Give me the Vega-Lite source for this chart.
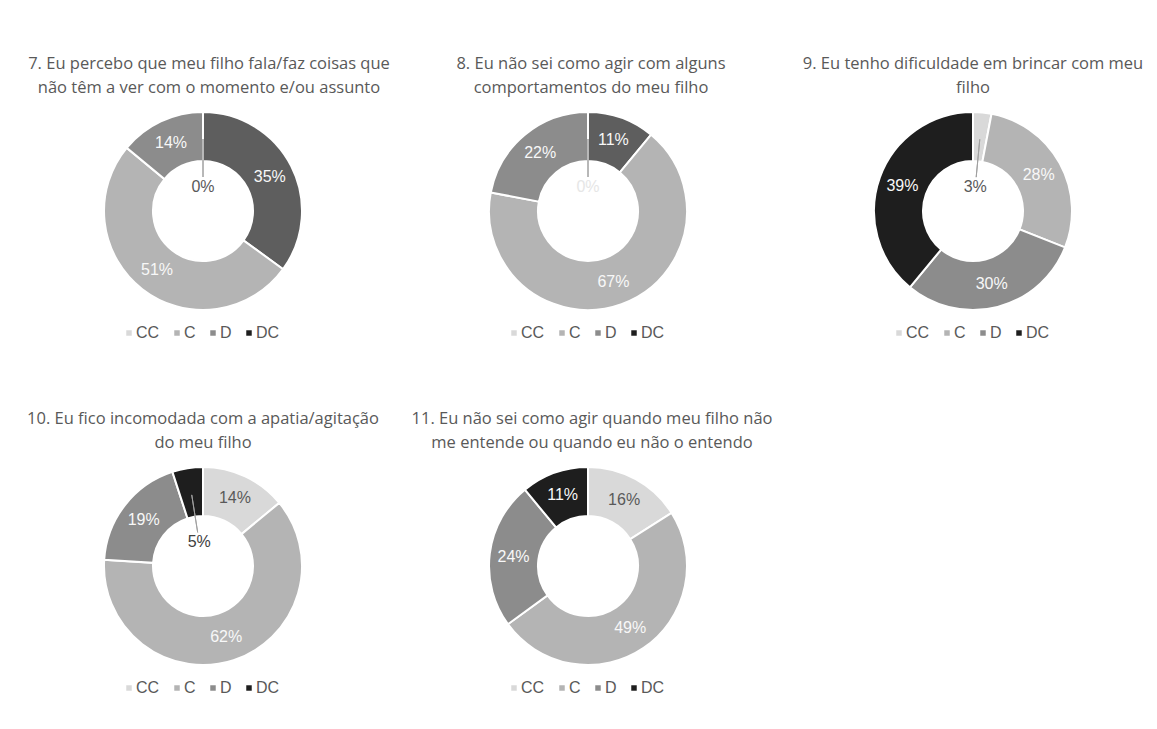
{
  "$schema": "https://vega.github.io/schema/vega-lite/v6.json",
  "background": "white",
  "padding": {"left": 13, "top": 55, "right": 0, "bottom": 0},
  "config": {
    "view": {"stroke": null},
    "title": {"font": "Open Sans", "fontSize": 16.5, "fontWeight": "normal", "color": "#595959", "lineHeight": 24, "anchor": "middle", "offset": 12},
    "legend": {"orient": "none", "legendX": 108, "legendY": 214, "direction": "horizontal", "title": null, "symbolType": "square", "symbolSize": 30, "symbolStrokeWidth": 0, "labelFont": "Liberation Sans", "labelFontSize": 16, "labelColor": "#595959", "columnPadding": 9, "labelOffset": -1, "padding": 0}
  },
  "data": {"values": [
    {"q": "7", "cat": "CC", "order": 1, "value": 0.00},
    {"q": "7", "cat": "DC", "order": 2, "value": 0.35},
    {"q": "7", "cat": "C", "order": 3, "value": 0.51},
    {"q": "7", "cat": "D", "order": 4, "value": 0.14},
    {"q": "8", "cat": "CC", "order": 1, "value": 0.00},
    {"q": "8", "cat": "DC", "order": 2, "value": 0.11},
    {"q": "8", "cat": "C", "order": 3, "value": 0.67},
    {"q": "8", "cat": "D", "order": 4, "value": 0.22},
    {"q": "9", "cat": "CC", "order": 1, "value": 0.03},
    {"q": "9", "cat": "C", "order": 2, "value": 0.28},
    {"q": "9", "cat": "D", "order": 3, "value": 0.30},
    {"q": "9", "cat": "DC", "order": 4, "value": 0.39},
    {"q": "10", "cat": "CC", "order": 1, "value": 0.14},
    {"q": "10", "cat": "C", "order": 2, "value": 0.62},
    {"q": "10", "cat": "D", "order": 3, "value": 0.19},
    {"q": "10", "cat": "DC", "order": 4, "value": 0.05},
    {"q": "11", "cat": "CC", "order": 1, "value": 0.16},
    {"q": "11", "cat": "C", "order": 2, "value": 0.49},
    {"q": "11", "cat": "D", "order": 3, "value": 0.24},
    {"q": "11", "cat": "DC", "order": 4, "value": 0.11}
  ]},
  "columns": 3,
  "spacing": {"row": 69, "column": 5},
  "resolve": {"scale": {"fill": "independent", "theta": "independent"}, "legend": {"fill": "independent"}},
  "concat": [
    {
      "title": {"text": ["7. Eu percebo que meu filho fala/faz coisas que", "não têm a ver com o momento e/ou assunto"], "dx": 6},
      "width": 380, "height": 200,
      "transform": [{"filter": "datum.q === '7'"}, {"stack": "value", "groupby": ["q"], "sort": [{"field": "order", "order": "ascending"}], "as": ["s0", "s1"]}, {"calculate": "(datum.s0 + datum.s1) / 2", "as": "mid"}],
      "layer": [
        {"mark": {"type": "arc", "outerRadius": 99, "innerRadius": 50, "stroke": "white", "strokeWidth": 2},
         "encoding": {"theta": {"field": "s0", "type": "quantitative", "stack": null, "scale": {"domain": [0, 1]}}, "theta2": {"field": "s1"},
           "fill": {"condition": {"test": "datum.cat === 'DC' && (datum.q === '7' || datum.q === '8')", "value": "#5e5e5e"}, "field": "cat", "type": "nominal", "scale": {"domain": ["CC", "C", "D", "DC"], "range": ["#d9d9d9", "#b4b4b4", "#8c8c8c", "#1e1e1e"]}}}},
        {"transform": [{"filter": "datum.value >= 0.06"}], "mark": {"type": "text", "radius": 75, "font": "Liberation Sans", "fontSize": 16},
         "encoding": {"theta": {"field": "mid", "type": "quantitative", "stack": null, "scale": {"domain": [0, 1]}}, "text": {"field": "value", "type": "quantitative", "format": ".0%"}, "color": {"condition": {"test": "datum.cat === 'CC'", "value": "#595959"}, "value": "#f8f8f8"}}},
        {"transform": [{"filter": "datum.value < 0.06"}], "mark": {"type": "arc", "outerRadius": 72, "innerRadius": 34, "stroke": "#a0a0a0", "strokeWidth": 1, "fill": null},
         "encoding": {"theta": {"field": "mid", "type": "quantitative", "stack": null, "scale": {"domain": [0, 1]}}, "theta2": {"field": "mid"}}},
        {"transform": [{"filter": "datum.value < 0.06"}], "mark": {"type": "text", "radius": 24, "font": "Liberation Sans", "fontSize": 16},
         "encoding": {"theta": {"field": "mid", "type": "quantitative", "stack": null, "scale": {"domain": [0, 1]}}, "text": {"field": "value", "type": "quantitative", "format": ".0%"}, "color": {"condition": {"test": "datum.q === '8'", "value": "#e6e6e6"}, "value": "#595959"}}}
      ]
    },
    {
      "title": {"text": ["8. Eu não sei como agir com alguns", "comportamentos do meu filho"], "dx": 3},
      "width": 380, "height": 200,
      "transform": [{"filter": "datum.q === '8'"}, {"stack": "value", "groupby": ["q"], "sort": [{"field": "order", "order": "ascending"}], "as": ["s0", "s1"]}, {"calculate": "(datum.s0 + datum.s1) / 2", "as": "mid"}],
      "layer": [
        {"mark": {"type": "arc", "outerRadius": 99, "innerRadius": 50, "stroke": "white", "strokeWidth": 2},
         "encoding": {"theta": {"field": "s0", "type": "quantitative", "stack": null, "scale": {"domain": [0, 1]}}, "theta2": {"field": "s1"},
           "fill": {"condition": {"test": "datum.cat === 'DC' && (datum.q === '7' || datum.q === '8')", "value": "#5e5e5e"}, "field": "cat", "type": "nominal", "scale": {"domain": ["CC", "C", "D", "DC"], "range": ["#d9d9d9", "#b4b4b4", "#8c8c8c", "#1e1e1e"]}}}},
        {"transform": [{"filter": "datum.value >= 0.06"}], "mark": {"type": "text", "radius": 75, "font": "Liberation Sans", "fontSize": 16},
         "encoding": {"theta": {"field": "mid", "type": "quantitative", "stack": null, "scale": {"domain": [0, 1]}}, "text": {"field": "value", "type": "quantitative", "format": ".0%"}, "color": {"condition": {"test": "datum.cat === 'CC'", "value": "#595959"}, "value": "#f8f8f8"}}},
        {"transform": [{"filter": "datum.value < 0.06"}], "mark": {"type": "arc", "outerRadius": 72, "innerRadius": 34, "stroke": "#a0a0a0", "strokeWidth": 1, "fill": null},
         "encoding": {"theta": {"field": "mid", "type": "quantitative", "stack": null, "scale": {"domain": [0, 1]}}, "theta2": {"field": "mid"}}},
        {"transform": [{"filter": "datum.value < 0.06"}], "mark": {"type": "text", "radius": 24, "font": "Liberation Sans", "fontSize": 16},
         "encoding": {"theta": {"field": "mid", "type": "quantitative", "stack": null, "scale": {"domain": [0, 1]}}, "text": {"field": "value", "type": "quantitative", "format": ".0%"}, "color": {"condition": {"test": "datum.q === '8'", "value": "#e6e6e6"}, "value": "#595959"}}}
      ]
    },
    {
      "title": {"text": ["9. Eu tenho dificuldade em brincar com meu", "filho"]},
      "width": 380, "height": 200,
      "transform": [{"filter": "datum.q === '9'"}, {"stack": "value", "groupby": ["q"], "sort": [{"field": "order", "order": "ascending"}], "as": ["s0", "s1"]}, {"calculate": "(datum.s0 + datum.s1) / 2", "as": "mid"}],
      "layer": [
        {"mark": {"type": "arc", "outerRadius": 99, "innerRadius": 50, "stroke": "white", "strokeWidth": 2},
         "encoding": {"theta": {"field": "s0", "type": "quantitative", "stack": null, "scale": {"domain": [0, 1]}}, "theta2": {"field": "s1"},
           "fill": {"field": "cat", "type": "nominal", "scale": {"domain": ["CC", "C", "D", "DC"], "range": ["#d9d9d9", "#b4b4b4", "#8c8c8c", "#1e1e1e"]}}}},
        {"transform": [{"filter": "datum.value >= 0.06"}], "mark": {"type": "text", "radius": 75, "font": "Liberation Sans", "fontSize": 16},
         "encoding": {"theta": {"field": "mid", "type": "quantitative", "stack": null, "scale": {"domain": [0, 1]}}, "text": {"field": "value", "type": "quantitative", "format": ".0%"}, "color": {"condition": {"test": "datum.cat === 'CC'", "value": "#595959"}, "value": "#f8f8f8"}}},
        {"transform": [{"filter": "datum.value < 0.06"}], "mark": {"type": "arc", "outerRadius": 72, "innerRadius": 34, "stroke": "#a0a0a0", "strokeWidth": 1, "fill": null},
         "encoding": {"theta": {"field": "mid", "type": "quantitative", "stack": null, "scale": {"domain": [0, 1]}}, "theta2": {"field": "mid"}}},
        {"transform": [{"filter": "datum.value < 0.06"}], "mark": {"type": "text", "radius": 24, "font": "Liberation Sans", "fontSize": 16},
         "encoding": {"theta": {"field": "mid", "type": "quantitative", "stack": null, "scale": {"domain": [0, 1]}}, "text": {"field": "value", "type": "quantitative", "format": ".0%"}, "color": {"value": "#595959"}}}
      ]
    },
    {
      "title": {"text": ["10. Eu fico incomodada com a apatia/agitação", "do meu filho"]},
      "width": 380, "height": 200,
      "transform": [{"filter": "datum.q === '10'"}, {"stack": "value", "groupby": ["q"], "sort": [{"field": "order", "order": "ascending"}], "as": ["s0", "s1"]}, {"calculate": "(datum.s0 + datum.s1) / 2", "as": "mid"}],
      "layer": [
        {"mark": {"type": "arc", "outerRadius": 99, "innerRadius": 50, "stroke": "white", "strokeWidth": 2},
         "encoding": {"theta": {"field": "s0", "type": "quantitative", "stack": null, "scale": {"domain": [0, 1]}}, "theta2": {"field": "s1"},
           "fill": {"field": "cat", "type": "nominal", "scale": {"domain": ["CC", "C", "D", "DC"], "range": ["#d9d9d9", "#b4b4b4", "#8c8c8c", "#1e1e1e"]}}}},
        {"transform": [{"filter": "datum.value >= 0.06"}], "mark": {"type": "text", "radius": 75, "font": "Liberation Sans", "fontSize": 16},
         "encoding": {"theta": {"field": "mid", "type": "quantitative", "stack": null, "scale": {"domain": [0, 1]}}, "text": {"field": "value", "type": "quantitative", "format": ".0%"}, "color": {"condition": {"test": "datum.cat === 'CC'", "value": "#595959"}, "value": "#f8f8f8"}}},
        {"transform": [{"filter": "datum.value < 0.06"}], "mark": {"type": "arc", "outerRadius": 72, "innerRadius": 34, "stroke": "#a0a0a0", "strokeWidth": 1, "fill": null},
         "encoding": {"theta": {"field": "mid", "type": "quantitative", "stack": null, "scale": {"domain": [0, 1]}}, "theta2": {"field": "mid"}}},
        {"transform": [{"filter": "datum.value < 0.06"}], "mark": {"type": "text", "radius": 24, "font": "Liberation Sans", "fontSize": 16},
         "encoding": {"theta": {"field": "mid", "type": "quantitative", "stack": null, "scale": {"domain": [0, 1]}}, "text": {"field": "value", "type": "quantitative", "format": ".0%"}, "color": {"value": "#404040"}}}
      ]
    },
    {
      "title": {"text": ["11. Eu não sei como agir quando meu filho não", "me entende ou quando eu não o entendo"], "dx": 4},
      "width": 380, "height": 200,
      "transform": [{"filter": "datum.q === '11'"}, {"stack": "value", "groupby": ["q"], "sort": [{"field": "order", "order": "ascending"}], "as": ["s0", "s1"]}, {"calculate": "(datum.s0 + datum.s1) / 2", "as": "mid"}],
      "layer": [
        {"mark": {"type": "arc", "outerRadius": 99, "innerRadius": 50, "stroke": "white", "strokeWidth": 2},
         "encoding": {"theta": {"field": "s0", "type": "quantitative", "stack": null, "scale": {"domain": [0, 1]}}, "theta2": {"field": "s1"},
           "fill": {"field": "cat", "type": "nominal", "scale": {"domain": ["CC", "C", "D", "DC"], "range": ["#d9d9d9", "#b4b4b4", "#8c8c8c", "#1e1e1e"]}}}},
        {"mark": {"type": "text", "radius": 75, "font": "Liberation Sans", "fontSize": 16},
         "encoding": {"theta": {"field": "mid", "type": "quantitative", "stack": null, "scale": {"domain": [0, 1]}}, "text": {"field": "value", "type": "quantitative", "format": ".0%"}, "color": {"condition": {"test": "datum.cat === 'CC'", "value": "#595959"}, "value": "#f8f8f8"}}}
      ]
    }
  ]
}
